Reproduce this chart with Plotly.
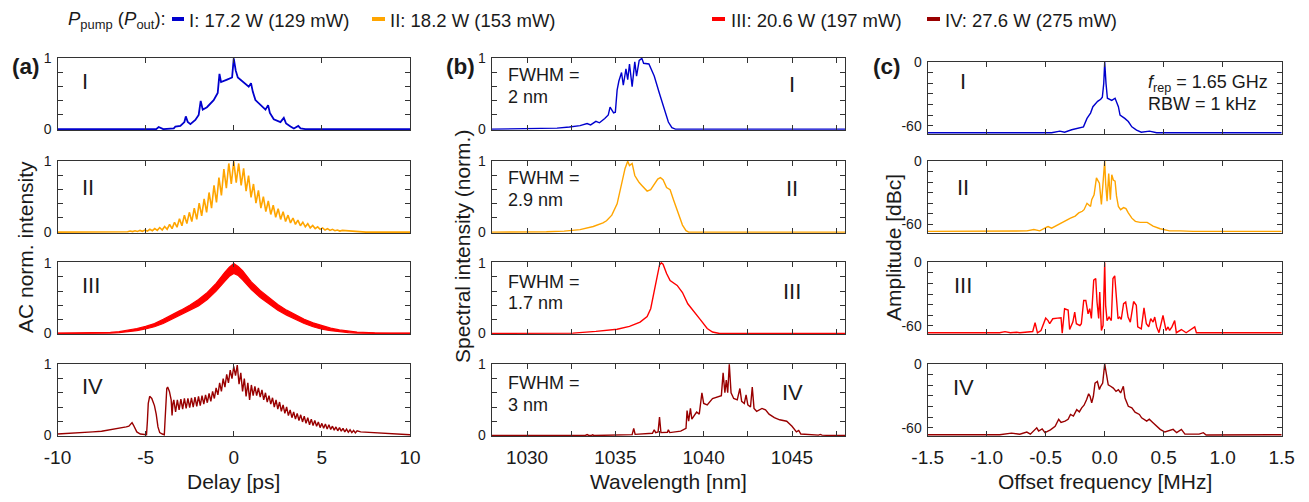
import plotly.graph_objects as go

# ---------------- data ----------------
COLORS = ['#0000CD', '#FFA500', '#FF0000', '#990000']
ROMAN = ['I', 'II', 'III', 'IV']
LEGEND_TEXT = ['I: 17.2 W (129 mW)', 'II: 18.2 W (153 mW)',
               'III: 20.6 W (197 mW)', 'IV: 27.6 W (275 mW)']
FWHM_TEXT = ['2 nm', '2.9 nm', '1.7 nm', '3 nm']

# (a) autocorrelation traces  (delay in ps, normalized intensity)
a1_t = [-10, -4.4, -4.26, -4.0, -3.4, -3.31, -3.03, -2.8, -2.72, -2.61, -2.46, -2.18, -1.99,
        -1.875, -1.76, -1.52, -1.14, -0.91, -0.81, -0.72, -0.38, -0.095, 0.0, 0.11, 0.23,
        0.57, 0.85, 0.98, 1.08, 1.23, 1.52, 1.8, 1.95, 2.05, 2.27, 2.65, 2.84, 2.97, 3.22,
        3.41, 3.66, 3.79, 4.07, 10]
a1_v = [0.0, 0.0, 0.03, 0.0, 0.01, 0.037, 0.045, 0.1, 0.18, 0.1, 0.07, 0.13, 0.2,
        0.4, 0.275, 0.31, 0.41, 0.51, 0.78, 0.665, 0.7, 0.73, 1.0, 0.83, 0.73,
        0.665, 0.6, 0.65, 0.53, 0.41, 0.34, 0.275, 0.34, 0.23, 0.14, 0.1, 0.16, 0.08, 0.037,
        0.01, 0.045, 0.01, 0.0, 0.0]

# II: fringe maxima (every 0.28 ps from -6.16 ps) and minima in between
a2_start, a2_step = -6.16, 0.14
a2_peaks = [0.01, 0.015, 0.02, 0.025, 0.03, 0.04, 0.05, 0.065, 0.08, 0.11, 0.14, 0.19, 0.24,
            0.28, 0.34, 0.41, 0.47, 0.56, 0.66, 0.77, 0.89, 0.97, 1.00, 0.97, 0.90, 0.80,
            0.68, 0.59, 0.50, 0.44, 0.38, 0.33, 0.29, 0.24, 0.20, 0.17, 0.14, 0.12, 0.095,
            0.075, 0.06, 0.05, 0.04, 0.03, 0.025]
a2_troughs = [0.005, 0.008, 0.01, 0.012, 0.015, 0.02, 0.025, 0.03, 0.04, 0.05, 0.07, 0.09,
              0.12, 0.15, 0.18, 0.23, 0.28, 0.34, 0.42, 0.52, 0.62, 0.68, 0.70, 0.66, 0.58,
              0.49, 0.41, 0.34, 0.29, 0.25, 0.21, 0.18, 0.15, 0.13, 0.11, 0.09, 0.075, 0.06,
              0.05, 0.04, 0.03, 0.025, 0.02, 0.015]

# III: dense fringes -> upper / lower envelope of the band
a3_t = [-10, -8, -7, -6.5, -6, -5.5, -5, -4.5, -4, -3.5, -3, -2.5, -2, -1.5, -1, -0.5, -0.25,
        0, 0.25, 0.5, 1, 1.5, 2, 2.5, 3, 3.5, 4, 4.5, 5, 5.5, 6, 6.5, 7, 8, 10]
a3_upper = [0.004, 0.008, 0.015, 0.025, 0.045, 0.07, 0.10, 0.14, 0.20, 0.26, 0.33, 0.40, 0.48,
            0.58, 0.71, 0.87, 0.94, 0.99, 0.95, 0.89, 0.73, 0.61, 0.51, 0.41, 0.33, 0.26,
            0.20, 0.15, 0.11, 0.075, 0.05, 0.03, 0.02, 0.01, 0.004]
a3_lower = [0.0, 0.0, 0.006, 0.012, 0.025, 0.04, 0.065, 0.095, 0.14, 0.20, 0.26, 0.32, 0.39,
            0.48, 0.60, 0.74, 0.81, 0.85, 0.82, 0.76, 0.62, 0.51, 0.42, 0.33, 0.26, 0.20,
            0.14, 0.095, 0.06, 0.04, 0.025, 0.012, 0.006, 0.0, 0.0]

# IV: left structure, then fringes (max every 0.2 ps from -3.4 ps, min in between), then tail
a4_head_t = [-10, -9, -8, -7.5, -7, -6.6, -6.3, -6.1, -5.95, -5.85, -5.77, -5.7, -5.6, -5.5,
             -5.3, -5.1, -4.95, -4.9, -4.85, -4.77, -4.65, -4.5, -4.4, -4.3, -4.2, -4.05,
             -3.94, -3.9, -3.85, -3.8, -3.75, -3.65, -3.55, -3.5, -3.45]
a4_head_v = [0.02, 0.03, 0.05, 0.06, 0.08, 0.09, 0.11, 0.12, 0.13, 0.16, 0.18, 0.15, 0.09, 0.05,
             0.02, 0.01, 0.01, 0.2, 0.45, 0.55, 0.52, 0.42, 0.3, 0.12, 0.04, 0.02,
             0.01, 0.2, 0.55, 0.66, 0.68, 0.62, 0.5, 0.28, 0.45]
a4_start, a4_step = -3.4, 0.1
a4_max = [0.50, 0.50, 0.51, 0.52, 0.52, 0.53, 0.54, 0.55, 0.56, 0.57, 0.59, 0.62, 0.67, 0.74,
          0.80, 0.86, 0.92, 0.97, 0.99, 0.88, 0.80, 0.74, 0.71, 0.69, 0.67, 0.64, 0.60, 0.56,
          0.53, 0.50, 0.47, 0.43, 0.40, 0.36, 0.33, 0.31, 0.29, 0.27, 0.25, 0.23, 0.21, 0.19,
          0.17, 0.16, 0.15, 0.13, 0.12, 0.11, 0.10, 0.09, 0.08, 0.07, 0.065]
a4_min = [0.33, 0.36, 0.37, 0.38, 0.39, 0.40, 0.41, 0.42, 0.44, 0.46, 0.48, 0.52, 0.57, 0.62,
          0.68, 0.74, 0.80, 0.84, 0.72, 0.62, 0.55, 0.50, 0.56, 0.56, 0.54, 0.50, 0.47, 0.44,
          0.40, 0.37, 0.34, 0.31, 0.28, 0.25, 0.23, 0.21, 0.19, 0.17, 0.15, 0.14, 0.13, 0.11,
          0.10, 0.09, 0.085, 0.075, 0.065, 0.06, 0.05, 0.045, 0.04, 0.035]
a4_tail_t = [7.2, 7.6, 8.0, 8.5, 9.0, 9.5, 10]
a4_tail_v = [0.05, 0.045, 0.035, 0.03, 0.02, 0.015, 0.01]

# (b) optical spectra (wavelength nm, normalized)
b1_wl = [1028, 1030.7, 1031.7, 1032.4, 1033.0, 1033.4, 1033.6, 1033.9, 1034.1, 1034.4, 1034.6,
         1034.7, 1034.9, 1035.0, 1035.1, 1035.2, 1035.35, 1035.45, 1035.6, 1035.7, 1035.8,
         1035.95, 1036.1, 1036.2, 1036.35, 1036.5, 1036.6, 1036.9, 1037.2, 1037.5, 1037.8,
         1038.0, 1038.2, 1038.4, 1048]
b1_s = [0, 0.005, 0.015, 0.03, 0.05, 0.08, 0.06, 0.11, 0.09, 0.15, 0.2, 0.31, 0.23, 0.24, 0.55,
        0.68, 0.8, 0.62, 0.85, 0.7, 0.92, 0.6, 0.95, 0.75, 0.97, 1.0, 0.93, 0.92, 0.75, 0.5,
        0.25, 0.1, 0.02, 0.0, 0.0]
b2_wl = [1028, 1030.2, 1031.1, 1032.1, 1033.0, 1033.75, 1034.3, 1034.5, 1034.8, 1035.1, 1035.4,
         1035.55, 1035.7, 1035.8, 1035.95, 1036.1, 1036.25, 1036.35, 1036.5, 1036.8, 1037.0,
         1037.2, 1037.4, 1037.55, 1037.7, 1037.9, 1038.1, 1038.3, 1038.6, 1038.8, 1039.0,
         1039.15, 1048]
b2_s = [0, 0, 0.005, 0.015, 0.035, 0.08, 0.13, 0.16, 0.24, 0.4, 0.73, 0.9, 1.0, 0.94, 0.97, 0.8,
        0.74, 0.7, 0.66, 0.58, 0.6, 0.68, 0.75, 0.77, 0.74, 0.63, 0.6, 0.45, 0.25, 0.1, 0.02, 0, 0]
b3_wl = [1028, 1032.1, 1032.6, 1033.9, 1035.1, 1035.8, 1036.4, 1036.8, 1037.0, 1037.2, 1037.35,
         1037.5, 1037.6, 1037.7, 1037.9, 1038.1, 1038.5, 1038.8, 1039.1, 1039.4, 1039.8,
         1040.2, 1040.5, 1040.9, 1048]
b3_s = [0, 0, 0.005, 0.03, 0.06, 0.1, 0.16, 0.24, 0.35, 0.6, 0.8, 0.97, 1.0, 0.98, 0.85, 0.75,
        0.68, 0.58, 0.42, 0.33, 0.2, 0.07, 0.02, 0, 0]
b4_wl = [1028, 1033.3, 1033.4, 1033.5, 1033.65, 1033.7, 1033.8, 1035.0, 1035.95, 1036.04,
         1036.12, 1037.1, 1037.2, 1037.28, 1037.42, 1037.5, 1037.58, 1037.95, 1038.0, 1038.08,
         1038.7, 1039.0, 1039.06, 1039.15, 1039.25, 1039.33, 1039.45, 1039.6, 1039.75, 1039.9,
         1040.0, 1040.2, 1040.5, 1040.75, 1041.0, 1041.1, 1041.2, 1041.28, 1041.36, 1041.45,
         1041.55, 1041.7, 1041.9, 1042.05, 1042.15, 1042.3, 1042.4, 1042.5, 1042.65, 1042.75,
         1042.85, 1043.0, 1043.3, 1043.5, 1043.7, 1044.0, 1044.3, 1044.7, 1045.0, 1045.25,
         1045.38, 1045.5, 1046.0, 1046.5, 1046.6, 1046.7, 1047.2, 1048]
b4_s = [0, 0, 0.012, 0, 0, 0.01, 0, 0.01, 0.012, 0.1, 0.015, 0.03, 0.08, 0.04, 0.05, 0.26, 0.04,
        0.045, 0.08, 0.04, 0.06, 0.1, 0.35, 0.2, 0.38, 0.23, 0.28, 0.33, 0.3, 0.6, 0.45, 0.43,
        0.52, 0.54, 0.56, 0.88, 0.6, 0.78, 0.6, 1.0, 0.6, 0.52, 0.5, 0.66, 0.48, 0.45, 0.57,
        0.43, 0.4, 0.68, 0.38, 0.34, 0.38, 0.36, 0.3, 0.25, 0.22, 0.2, 0.13, 0.05, 0.07, 0.02,
        0.01, 0.005, 0.015, 0.005, 0, 0]

# (c) RF spectra (offset MHz, dBc)
c1_f = [-1.5, -0.45, -0.38, -0.34, -0.28, -0.24, -0.21, -0.18, -0.15, -0.12, -0.1, -0.06,
        -0.034, -0.02, -0.008, 0.0, 0.011, 0.023, 0.06, 0.088, 0.116, 0.13, 0.17, 0.2, 0.23,
        0.27, 0.31, 0.38, 0.44, 1.5]
c1_db = [-66.5, -66.5, -65, -66, -63.7, -62.7, -62, -61, -53, -48, -42, -37, -35, -33, -20, 0,
         -20, -34, -36, -34, -42, -50, -53, -56, -61, -64, -66, -65, -66.5, -66.5]
c2_f = [-1.5, -0.66, -0.6, -0.55, -0.5, -0.48, -0.45, -0.41, -0.35, -0.29, -0.25, -0.22, -0.19,
        -0.175, -0.15, -0.12, -0.11, -0.09, -0.07, -0.056, -0.045, -0.028, -0.017, -0.006, 0.0,
        0.008, 0.02, 0.034, 0.048, 0.06, 0.073, 0.088, 0.1, 0.116, 0.135, 0.16, 0.18, 0.2,
        0.23, 0.26, 0.3, 0.36, 0.41, 0.47, 0.51, 0.55, 0.64, 0.75, 1.5]
c2_db = [-66.5, -66, -64.7, -66, -63, -62, -63.5, -61, -57, -54, -52, -49, -47.5, -46, -40,
         -43, -36.5, -32, -16, -19, -21, -41, -21, -12, 0, -21, -38, -12, -36.5, -13, -18, -19,
         -33, -43, -46, -44, -45, -49, -54, -57, -58, -58, -61.5, -64, -64.7, -66, -66, -66.5,
         -66.5]
c3_f = [-1.5, -0.89, -0.845, -0.8, -0.746, -0.72, -0.61, -0.59, -0.57, -0.54, -0.5, -0.48,
        -0.466, -0.44, -0.40, -0.37, -0.36, -0.34, -0.31, -0.297, -0.27, -0.254, -0.24, -0.21,
        -0.198, -0.178, -0.16, -0.141, -0.127, -0.113, -0.093, -0.076, -0.065, -0.051, -0.042,
        -0.028, -0.014, 0.0, 0.008, 0.02, 0.037, 0.056, 0.07, 0.085, 0.1, 0.113, 0.127, 0.14,
        0.16, 0.178, 0.198, 0.217, 0.245, 0.268, 0.28, 0.31, 0.333, 0.353, 0.373, 0.39, 0.41,
        0.424, 0.44, 0.46, 0.494, 0.508, 0.52, 0.537, 0.55, 0.57, 0.593, 0.607, 0.65, 0.69,
        0.763, 0.777, 0.89, 1.5]
c3_db = [-66.5, -66.5, -65.5, -66.5, -66, -66.5, -65.4, -57, -66.7, -64.5, -52.7, -55, -58,
         -53.3, -52.7, -52.4, -67, -43.8, -45, -63.5, -56.5, -47, -58, -59.7, -58, -36, -36,
         -48.6, -43.8, -53, -16.8, -15.2, -37.5, -53, -28, -64.4, -59.7, 0, -40.6, -55, -51.8,
         -55, -15.2, -12.7, -34.3, -53.3, -51.7, -54, -39, -37.5, -51.7, -56.5, -37, -40.6,
         -61, -62.8, -43, -58, -61, -53.3, -56.5, -51.7, -61, -66.5, -50.2, -56.5, -64.4, -61,
         -64.4, -61, -55, -66.5, -63.5, -66.5, -61, -66.5, -66.5, -66.5]
c4_f = [-1.5, -0.89, -0.79, -0.72, -0.66, -0.63, -0.576, -0.56, -0.53, -0.506, -0.46, -0.42,
        -0.39, -0.37, -0.336, -0.31, -0.29, -0.265, -0.237, -0.215, -0.195, -0.175, -0.153,
        -0.136, -0.124, -0.11, -0.096, -0.082, -0.062, -0.045, -0.034, -0.017, 0.0, 0.017,
        0.03, 0.05, 0.073, 0.096, 0.116, 0.135, 0.158, 0.172, 0.2, 0.23, 0.257, 0.294, 0.313,
        0.356, 0.378, 0.407, 0.44, 0.47, 0.51, 0.58, 0.61, 0.65, 0.68, 0.8, 0.836, 0.86, 1.5]
c4_db = [-66.5, -66.5, -65, -66, -64, -66, -60, -63, -61, -64.6, -62, -58.7, -52, -55, -53.7,
         -52, -47.5, -49, -43, -45, -41.3, -38.8, -33.5, -28, -30.4, -36.6, -30.4, -18, -16.5,
         -24, -21, -18, 0, -11.8, -19.6, -21, -22.7, -25.8, -24.2, -27.3, -21, -32, -39.8,
         -41.3, -45.3, -47.5, -50.6, -53.7, -52, -55, -58.4, -61.5, -64, -61.5, -64.6, -61.5,
         -66, -66, -64.6, -66.8, -66.5]

# ---------------- figure ----------------
WIN_W, WIN_H = 1309, 502
OFF = 8                      # page body margin in the browser
W, H = WIN_W - OFF, WIN_H - OFF
FONT = "Liberation Sans, Arial, sans-serif"
INK = '#1a1a1a'


def px(x):
    return (x - OFF) / W


def py(y):
    return 1 - (y - OFF) / H


COL_X = [(57.5, 410.0), (491.7, 845.0), (927.7, 1281.7)]
ROW_Y = [(57.5, 130.0), (160.5, 233.0), (262.0, 334.3), (363.5, 436.3)]
C_ROW0 = (61.7, 134.3)

fig = go.Figure()


def aid(c, r):
    return c * 4 + r + 1


def add(c, r, x, y, color, width=1.5, **kw):
    n = aid(c, r)
    fig.add_trace(go.Scatter(x=x, y=y, mode='lines', line=dict(color=color, width=width),
                             xaxis='x' if n == 1 else f'x{n}',
                             yaxis='y' if n == 1 else f'y{n}',
                             hoverinfo='skip', showlegend=False, **kw))


# (a)
add(0, 0, a1_t, a1_v, COLORS[0], 1.8)
a2_t, a2_v = [-10, -7.0], [0.0, 0.0]
for i in range(len(a2_peaks) + len(a2_troughs)):
    a2_t.append(round(a2_start + a2_step * i, 3))
    a2_v.append(a2_peaks[i // 2] if i % 2 == 0 else a2_troughs[i // 2])
a2_t += [7.5, 10]
a2_v += [0.0, 0.0]
add(0, 1, a2_t, a2_v, COLORS[1], 1.6)
add(0, 2, a3_t, a3_lower, COLORS[2], 1.2)
add(0, 2, a3_t, a3_upper, COLORS[2], 1.2, fill='tonexty', fillcolor=COLORS[2])
a4_t, a4_v = list(a4_head_t), list(a4_head_v)
for i in range(len(a4_max) + len(a4_min)):
    a4_t.append(round(a4_start + a4_step * i, 3))
    a4_v.append(a4_max[i // 2] if i % 2 == 0 else a4_min[i // 2])
a4_t += a4_tail_t
a4_v += a4_tail_v
add(0, 3, a4_t, a4_v, COLORS[3], 1.4)

# (b)
for r, (wl, s) in enumerate([(b1_wl, b1_s), (b2_wl, b2_s), (b3_wl, b3_s), (b4_wl, b4_s)]):
    add(1, r, wl, s, COLORS[r], 1.4)
# (c)
for r, (f, d) in enumerate([(c1_f, c1_db), (c2_f, c2_db), (c3_f, c3_db), (c4_f, c4_db)]):
    add(2, r, f, d, COLORS[r], 1.4)

layout = dict(width=W, height=H, autosize=False,
              margin=dict(l=0, r=0, t=0, b=0, pad=0, autoexpand=False),
              paper_bgcolor='white', plot_bgcolor='white', showlegend=False,
              font=dict(family=FONT, color=INK))

TICK_COLOR = '#333333'
common = dict(showline=True, linecolor=TICK_COLOR, linewidth=1.4, mirror='ticks',
              ticks='inside', ticklen=5, tickwidth=1.2, tickcolor=TICK_COLOR,
              showgrid=False, zeroline=False, fixedrange=True, automargin=False)
minor_style = dict(ticks='inside', ticklen=5, tickwidth=1.2, tickcolor=TICK_COLOR,
                   showgrid=False)

x_specs = [
    dict(range=[-10, 10], tickvals=[-10, -5, 0, 5, 10], ticktext=['-10', '-5', '0', '5', '10']),
    dict(range=[1028, 1048], tickvals=[1030, 1035, 1040, 1045],
         ticktext=['1030', '1035', '1040', '1045'],
         minor=dict(minor_style, tickvals=[1032.5, 1037.5, 1042.5, 1047.5])),
    dict(range=[-1.5, 1.5], tickvals=[-1.5, -1.0, -0.5, 0.0, 0.5, 1.0, 1.5],
         ticktext=['-1.5', '-1.0', '-0.5', '0.0', '0.5', '1.0', '1.5']),
]
y_norm = dict(range=[-0.012, 1.012], tickvals=[0, 1.0], ticktext=['0', '1'],
              minor=dict(minor_style, tickvals=[0.2, 0.4, 0.6, 0.8]))
y_db = dict(range=[-68, 0.4], tickvals=[-60, 0], ticktext=['-60', '0'],
            minor=dict(minor_style, tickvals=[-50, -40, -30, -20, -10]))

for c in range(3):
    for r in range(4):
        n = aid(c, r)
        xs = dict(x_specs[c])
        top, bot = (C_ROW0 if (c == 2 and r == 0) else ROW_Y[r])
        xk = 'xaxis' if n == 1 else f'xaxis{n}'
        yk = 'yaxis' if n == 1 else f'yaxis{n}'
        layout[xk] = dict(common, **xs, domain=[px(COL_X[c][0]), px(COL_X[c][1])],
                          anchor='y' if n == 1 else f'y{n}', showticklabels=(r == 3),
                          tickfont=dict(size=19, family=FONT, color=INK), ticklabelstandoff=4)
        ys = dict(y_db if c == 2 else y_norm)
        layout[yk] = dict(common, **ys, domain=[py(bot), py(top)],
                          anchor='x' if n == 1 else f'x{n}',
                          tickfont=dict(size=14, family=FONT, color=INK), ticklabelstandoff=2)

annotations = []


def ann(x, y, text, size, xanchor='center', yanchor='middle', angle=0, **kw):
    annotations.append(dict(x=px(x), y=py(y), xref='paper', yref='paper', text=text,
                            showarrow=False, xanchor=xanchor, yanchor=yanchor, textangle=angle,
                            font=dict(size=size, family=FONT, color=INK), **kw))


# panel letters
ann(26, 66, '<b>(a)</b>', 22.5)
ann(460, 66, '<b>(b)</b>', 22.5)
ann(887, 66, '<b>(c)</b>', 22.5)

# roman numerals
a_rom_y = [81, 187, 285, 386]
b_rom_y = [85, 189, 291, 392]
c_rom_y = [82, 187, 285, 387]
for r in range(4):
    ann(80, a_rom_y[r], ROMAN[r], 22, xanchor='left')
    ann(792, b_rom_y[r], ROMAN[r], 22)
    ann(963, c_rom_y[r], ROMAN[r], 22)

# FWHM notes
fw_y = [(75, 97), (178, 200), (282, 303), (383, 405)]
for r in range(4):
    ann(506, fw_y[r][0], 'FWHM =', 18, xanchor='left')
    ann(506, fw_y[r][1], FWHM_TEXT[r], 18, xanchor='left')

ann(1146, 83, '<i>f</i><sub>rep</sub> = 1.65 GHz', 18, xanchor='left')
ann(1146, 104, 'RBW = 1 kHz', 18, xanchor='left')

# axis titles
ann(233, 481, 'Delay [ps]', 21)
ann(668, 481, 'Wavelength [nm]', 21)
ann(1105, 481, 'Offset frequency [MHz]', 21)
ann(25, 247, 'AC norm. intensity', 21, angle=-90)
ann(462, 247, 'Spectral intensity (norm.)', 21, angle=-90)
ann(893, 247, 'Amplitude [dBc]', 21, angle=-90)

# top legend
ann(66, 20, '<i>P</i><sub>pump</sub> (<i>P</i><sub>out</sub>):', 18.5, xanchor='left')
leg_dash = [(172, 184), (372, 385), (712, 725), (927, 940)]
leg_text_x = [187, 388, 729, 943]
shapes = []
for i in range(4):
    shapes.append(dict(type='line', xref='paper', yref='paper',
                       x0=px(leg_dash[i][0]), x1=px(leg_dash[i][1]), y0=py(19), y1=py(19),
                       line=dict(color=COLORS[i], width=4)))
    ann(leg_text_x[i], 20, LEGEND_TEXT[i], 18.5, xanchor='left')

layout['annotations'] = annotations
layout['shapes'] = shapes
fig.update_layout(**layout)
fig.write_html("out.html")
